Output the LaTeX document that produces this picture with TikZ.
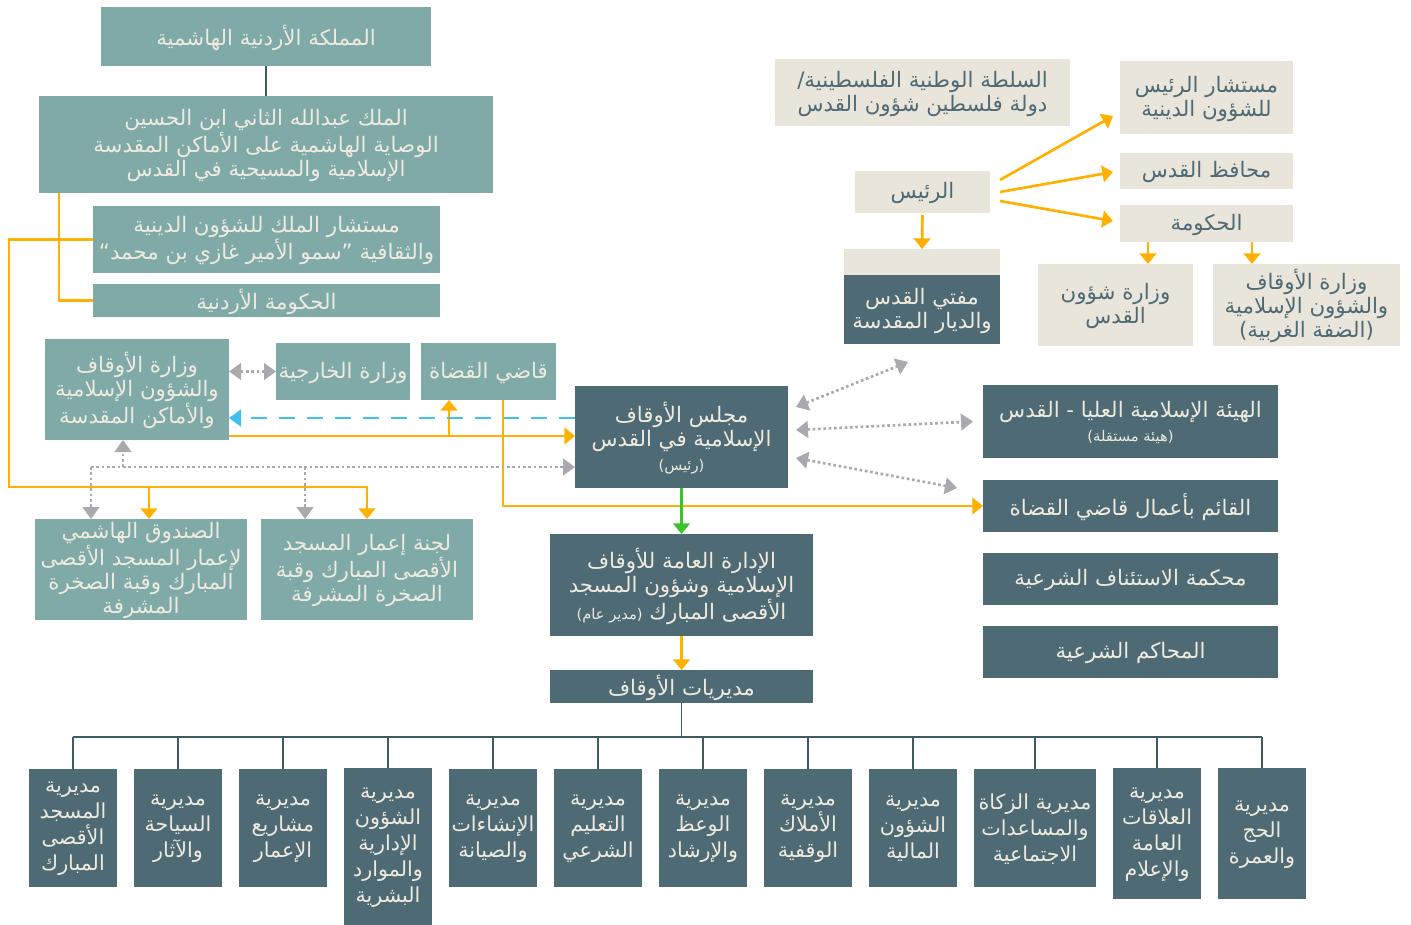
\documentclass[tikz,border=0pt]{standalone}
\usepackage{fontspec}
\usetikzlibrary{arrows.meta,calc,fit}
\newfontfamily\arabicfont[Script=Arabic]{DejaVu Sans}
\TeXXeTstate=1
\newcommand{\AR}[1]{\beginR #1\endR}
\newcommand{\SM}[1]{{\fontsize{11}{13}\selectfont #1}}
\definecolor{cTeal}{HTML}{7FAAA7}
\definecolor{cDark}{HTML}{4E6A74}
\definecolor{cBeige}{HTML}{E9E5DB}
\definecolor{cCream}{HTML}{EEEADF}
\definecolor{cOrange}{HTML}{FFB000}
\definecolor{cBlue}{HTML}{3DC1EE}
\definecolor{cGray}{HTML}{A9A9AE}
\definecolor{cGreen}{HTML}{3CC22B}
\definecolor{cLine}{HTML}{3E5A64}
% box (fitted to corners) + centred text node
\newcommand{\bx}[7]{%
  \node[#1, fit={(#3,#4) (#5,#6)}] (#2) {};
  \node[#1, fill=none, yshift=-0.8pt] (#2t) at (#2.center) {#7};}
\begin{document}
\begin{tikzpicture}[x=0.75pt,y=-0.75pt,
  box/.style={inner sep=0pt, outer sep=0pt, align=center, font=\arabicfont\fontsize{16}{18}\selectfont},
  tbox/.style={box, fill=cTeal, text=cCream},
  dbox/.style={box, fill=cDark, text=cCream},
  bbox/.style={box, fill=cBeige, text=cDark},
  lbox/.style={dbox, font=\arabicfont\fontsize{15.5}{19.5}\selectfont},
  tip/.style={-{Triangle[width=12.5pt,length=8pt]}},
  oline/.style={draw=cOrange, line width=2pt},
  oarr/.style={oline, tip},
  gline/.style={draw=cGray, line width=2pt, dash pattern=on 2pt off 2pt},
  garr/.style={gline, -{Triangle[width=12.5pt,length=9pt]}},
  gdarr/.style={gline, {Triangle[width=12.5pt,length=9pt]}-{Triangle[width=12.5pt,length=9pt]}},
  barr/.style={draw=cBlue, line width=2.2pt, dash pattern=on 12pt off 9pt, -{Triangle[width=12.5pt,length=9pt]}},
  garrow/.style={draw=cGreen, line width=2pt, tip},
  tree/.style={draw=cLine, line width=1pt}
]
\useasboundingbox (0,0) rectangle (1411,925);

% ---- Jordanian side
\bx{tbox}{kingdom}{101}{7}{431}{66}{\AR{المملكة الأردنية الهاشمية}}
\bx{tbox}{king}{39}{96}{493}{193}{\AR{الملك عبدالله الثاني ابن الحسين}\\\AR{الوصاية الهاشمية على الأماكن المقدسة}\\\AR{الإسلامية والمسيحية في القدس}}
\bx{tbox}{advisor}{93}{206}{440}{273}{\AR{مستشار الملك للشؤون الدينية}\\\AR{والثقافية ”سمو الأمير غازي بن محمد“}}
\bx{tbox}{jgov}{93}{284}{440}{317}{\AR{الحكومة الأردنية}}
\bx{tbox}{ministry}{45}{339}{229}{440}{\AR{وزارة الأوقاف}\\\AR{والشؤون الإسلامية}\\\AR{والأماكن المقدسة}}
\bx{tbox}{foreign}{276}{343}{410}{400}{\AR{وزارة الخارجية}}
\bx{tbox}{qadi}{421}{343}{556}{400}{\AR{قاضي القضاة}}
\bx{dbox}{council}{575}{386}{788}{488}{\AR{مجلس الأوقاف}\\\AR{الإسلامية في القدس}\\\SM{\AR{(رئيس)}}}
\bx{tbox}{fund}{35}{519}{247}{620}{\AR{الصندوق الهاشمي}\\\AR{لإعمار المسجد الأقصى}\\\AR{المبارك وقبة الصخرة}\\\AR{المشرفة}}
\bx{tbox}{committee}{261}{519}{473}{620}{\AR{لجنة إعمار المسجد}\\\AR{الأقصى المبارك وقبة}\\\AR{الصخرة المشرفة}}
\bx{dbox}{genadmin}{550}{534}{813}{636}{\AR{الإدارة العامة للأوقاف}\\\AR{الإسلامية وشؤون المسجد}\\\AR{الأقصى المبارك \SM{(مدير عام)}}}
\bx{dbox}{dirs}{550}{670}{813}{703}{\AR{مديريات الأوقاف}}

% ---- Palestinian side
\bx{bbox}{pa}{775}{59}{1070}{126}{\AR{السلطة الوطنية الفلسطينية/}\\\AR{دولة فلسطين شؤون القدس}}
\bx{bbox}{pres}{855}{171}{990}{213}{\AR{الرئيس}}
\node[bbox, fit={(844,249) (1000,275)}] (muftitop) {};
\bx{dbox}{mufti}{844}{275}{1000}{344}{\AR{مفتي القدس}\\\AR{والديار المقدسة}}
\bx{bbox}{padv}{1120}{61}{1293}{134}{\AR{مستشار الرئيس}\\\AR{للشؤون الدينية}}
\bx{bbox}{governor}{1120}{153}{1293}{189}{\AR{محافظ القدس}}
\bx{bbox}{gov}{1120}{205}{1293}{242}{\AR{الحكومة}}
\bx{bbox}{jmin}{1038}{264}{1193}{346}{\AR{وزارة شؤون}\\\AR{القدس}}
\bx{bbox}{wbmin}{1213}{264}{1400}{346}{\AR{وزارة الأوقاف}\\\AR{والشؤون الإسلامية}\\\AR{(الضفة الغربية)}}
\bx{dbox}{supreme}{983}{385}{1278}{458}{\AR{الهيئة الإسلامية العليا - القدس}\\\SM{\AR{(هيئة مستقلة)}}}
\bx{dbox}{acting}{983}{480}{1278}{532}{\AR{القائم بأعمال قاضي القضاة}}
\bx{dbox}{appeal}{983}{553}{1278}{605}{\AR{محكمة الاستئناف الشرعية}}
\bx{dbox}{courts}{983}{626}{1278}{678}{\AR{المحاكم الشرعية}}

% ---- Directorates
\bx{lbox}{d1}{29}{769}{117}{887}{\AR{مديرية}\\\AR{المسجد}\\\AR{الأقصى}\\\AR{المبارك}}
\bx{lbox}{d2}{134}{769}{222}{887}{\AR{مديرية}\\\AR{السياحة}\\\AR{والآثار}}
\bx{lbox}{d3}{239}{769}{327}{887}{\AR{مديرية}\\\AR{مشاريع}\\\AR{الإعمار}}
\bx{lbox}{d4}{344}{768}{432}{925}{\AR{مديرية}\\\AR{الشؤون}\\\AR{الإدارية}\\\AR{والموارد}\\\AR{البشرية}}
\bx{lbox}{d5}{449}{769}{537}{887}{\AR{مديرية}\\\AR{الإنشاءات}\\\AR{والصيانة}}
\bx{lbox}{d6}{554}{769}{642}{887}{\AR{مديرية}\\\AR{التعليم}\\\AR{الشرعي}}
\bx{lbox}{d7}{659}{769}{747}{887}{\AR{مديرية}\\\AR{الوعظ}\\\AR{والإرشاد}}
\bx{lbox}{d8}{764}{769}{852}{887}{\AR{مديرية}\\\AR{الأملاك}\\\AR{الوقفية}}
\bx{lbox}{d9}{869}{769}{957}{887}{\AR{مديرية}\\\AR{الشؤون}\\\AR{المالية}}
\bx{lbox}{d10}{974}{769}{1096}{887}{\AR{مديرية الزكاة}\\\AR{والمساعدات}\\\AR{الاجتماعية}}
\bx{lbox}{d11}{1113}{768}{1201}{899}{\AR{مديرية}\\\AR{العلاقات}\\\AR{العامة}\\\AR{والإعلام}}
\bx{lbox}{d12}{1218}{768}{1306}{899}{\AR{مديرية}\\\AR{الحج}\\\AR{والعمرة}}

% ---- Tree
\draw[tree] (kingdom.south) -- (kingdom.south |- king.north);
\coordinate (tj) at ($(dirs.south)+(0,34)$);
\draw[tree] (dirs.south) -- (tj);
\draw[tree] (d1.north |- tj) -- (d12.north |- tj);
\foreach \d in {d1,d2,d3,d4,d5,d6,d7,d8,d9,d10,d11,d12}
  \draw[tree] (\d.north |- tj) -- (\d.north);

% ---- Orange lines (Jordan)
\coordinate (ok) at ($(king.south west)+(20,0)$);
\draw[oline] (ok) |- (jgov.west);
\coordinate (oc) at (9,487);
\coordinate (of) at (149,487);
\coordinate (oc2) at (367,487);
\draw[oarr] (advisor.west) -| (oc) -| (oc2 |- committee.north);
\draw[oarr] (of) -- (of |- fund.north);

% ministry -> council, branch to qadi
\coordinate (ol) at ($(ministry.north east)+(0,97)$);
\draw[oarr] (ol) -- (ol -| council.west);
\coordinate (ob) at ($(ol)+(220,0)$);
\draw[oarr] (ob) -- (ob |- qadi.south);

% blue dashed council -> ministry
\coordinate (bl) at ($(council.north west)+(0,32)$);
\draw[barr] (bl) -- (bl -| ministry.east);

% qadi -> acting qadi
\coordinate (oq) at ($(qadi.south west)+(82,0)$);
\draw[oarr] (oq) |- (acting.west);

% gray dotted network
\draw[gdarr] (foreign.west) -- (foreign.west -| ministry.east);
\coordinate (gl) at ($(council.west)+(0,30)$);
\coordinate (ga) at (91,467);
\coordinate (gb) at (123,467);
\coordinate (gc) at (305,467);
\draw[garr] (ga) -- (gl);
\draw[garr] (ga) -- (ga |- fund.north);
\draw[garr] (gb) -- (gb |- ministry.south);
\draw[garr] (gc) -- (gc |- committee.north);

% council -> general admin -> directorates
\draw[garrow] (council.south) -- (genadmin.north);
\draw[oarr] (genadmin.south) -- (dirs.north);

% council dotted double arrows
\draw[gdarr] ($(council.north east)+(8,21)$) -- ($(mufti.south)+(-14,18)$);
\draw[gdarr] ($(council.north east)+(8,44)$) -- ($(supreme.west)+(-10,0)$);
\draw[gdarr] ($(council.north east)+(8,72)$) -- ($(acting.north west)+(-26,8)$);

% ---- Orange (Palestine)
\draw[oarr] ($(pres.south)+(0,2)$) -- (muftitop.north);
\draw[oarr] ($(pres.east)+(10,-12)$) -- ($(padv.south west)+(-7,-18)$);
\draw[oarr] ($(pres.east)+(10,0)$) -- ($(governor.west)+(-7,1)$);
\draw[oarr] ($(pres.east)+(10,9)$) -- ($(gov.west)+(-7,-2.5)$);
\coordinate (g1) at ($(gov.south west)+(28,0)$);
\coordinate (g2) at ($(gov.south west)+(132,0)$);
\draw[oarr] (g1) -- (g1 |- jmin.north);
\draw[oarr] (g2) -- (g2 |- wbmin.north);
\end{tikzpicture}
\end{document}
